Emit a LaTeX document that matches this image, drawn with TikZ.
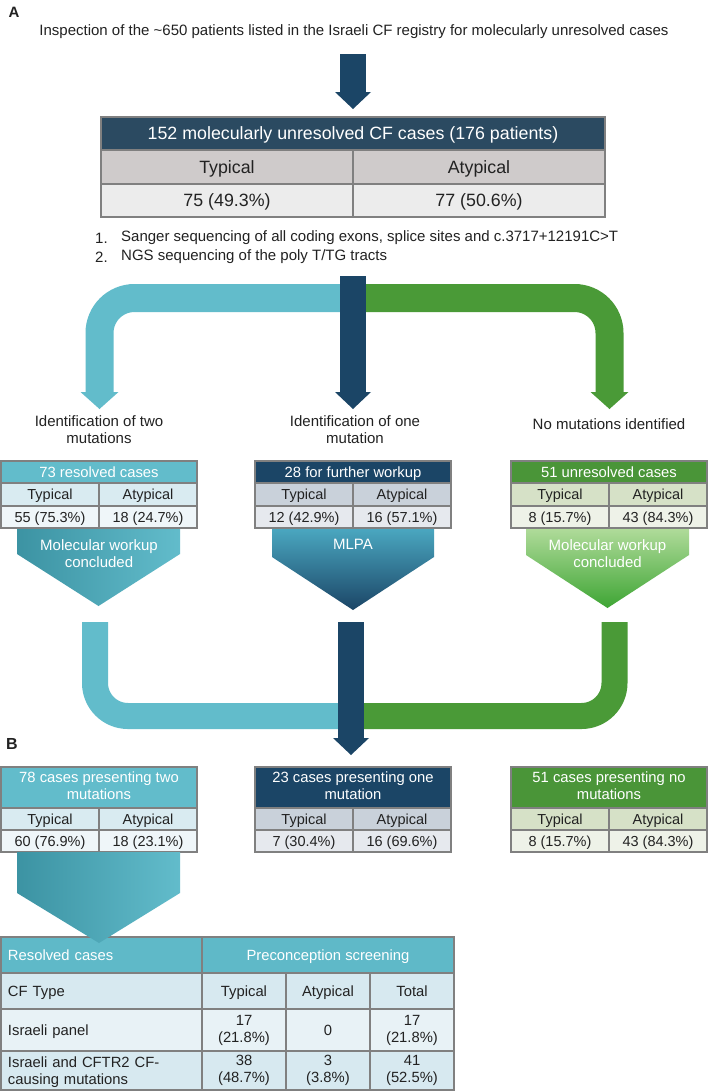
\documentclass[tikz,border=0pt]{standalone}
\usepackage{fontspec}
\setmainfont{Liberation Sans}
\usetikzlibrary{calc}
\definecolor{navy}{HTML}{1B4566}
\definecolor{slate}{HTML}{2B4A61}
\definecolor{tealc}{HTML}{62BCCB}
\definecolor{tealdk}{HTML}{3C93A3}
\definecolor{tealmid}{HTML}{4BA9C2}
\definecolor{greenc}{HTML}{4A9A37}
\definecolor{greenlt}{HTML}{B2DC9C}
\definecolor{greenbr}{HTML}{3EA534}
\definecolor{grayrow}{HTML}{CFCBCB}
\definecolor{grayval}{HTML}{ECECEC}
\definecolor{border}{HTML}{808080}
\definecolor{tealrow}{HTML}{D9EBF1}
\definecolor{tealval}{HTML}{EFF6F9}
\definecolor{navyrow}{HTML}{C9D1DA}
\definecolor{navyval}{HTML}{E6E9EE}
\definecolor{greenrow}{HTML}{D6E1C7}
\definecolor{greenval}{HTML}{EEF2E8}
\definecolor{greenhd}{HTML}{4A9538}
\definecolor{tblhead}{HTML}{5FB9C8}
\definecolor{tblrowA}{HTML}{D7E9F0}
\definecolor{tblrowB}{HTML}{E8F2F6}
\definecolor{textc}{HTML}{222222}
\newcommand\cellstrut{\rule[-0.19em]{0pt}{1.1em}}
\begin{document}
\begin{tikzpicture}[x=1bp,y=-1bp,
  cell/.style={draw=border, line width=1.5bp, inner sep=0pt, outer sep=0pt, align=center, text=textc,
    font=\fontsize{14.5bp}{17bp}\selectfont,
    execute at begin node=\cellstrut, execute at end node=\cellstrut},
  hcell/.style={cell, text=white, font=\fontsize{14.8bp}{17bp}\selectfont},
  bigcell/.style={cell, font=\fontsize{17.8bp}{20bp}\selectfont},
  tcell/.style={cell, font=\fontsize{14.8bp}{17bp}\selectfont},
  lcell/.style={tcell, align=left, inner xsep=7bp, text width=187bp},
  lbl/.style={align=center, text=textc, font=\fontsize{15bp}{17bp}\selectfont, inner sep=0pt},
  chevtext/.style={align=center, text=white, font=\fontsize{15bp}{17bp}\selectfont, inner sep=0pt},
  panel/.style={font=\bfseries\fontsize{15bp}{18bp}\selectfont, text=textc, inner sep=0pt}
]
\useasboundingbox (0,0) rectangle (709,1091);
\fill[white] (0,0) rectangle (709,1091);

% ---------- Panel A ----------
\node[panel] (labA) at (14,12) {A};
\node[lbl] (title) at (354,32) {Inspection of the \textasciitilde650 patients listed in the Israeli CF registry for molecularly unresolved cases};

\coordinate (a1top) at (353,54);
\coordinate (a1base) at (353,92);
\draw[navy, line width=26bp] (a1top) -- (a1base);
\fill[navy] (a1base) ++(-18,0) -- ++(36,0) -- ++(-18,17) -- cycle;

\node[bigcell, fill=slate, text=white, minimum width=504bp, minimum height=33bp] (hdr) at (353,133.5) {152 molecularly unresolved CF cases (176 patients)};
\node[bigcell, fill=grayrow, minimum width=252bp, minimum height=34bp] (ttyp) at (227,167) {Typical};
\node[bigcell, fill=grayrow, minimum width=252bp, minimum height=34bp] (tatyp) at (479,167) {Atypical};
\node[bigcell, fill=grayval, minimum width=252bp, minimum height=33bp] (tv1) at (227,200.5) {75 (49.3\%)};
\node[bigcell, fill=grayval, minimum width=252bp, minimum height=33bp] (tv2) at (479,200.5) {77 (50.6\%)};

\node[lbl, anchor=west, font=\fontsize{15bp}{17bp}\selectfont] (n1) at (95,238) {1.};
\node[lbl, anchor=west, font=\fontsize{15bp}{17bp}\selectfont] (l1) at (121,238) {Sanger sequencing of all coding exons, splice sites and c.3717+12191C>T};
\node[lbl, anchor=west, font=\fontsize{15bp}{17bp}\selectfont] (n2) at (95,257) {2.};
\node[lbl, anchor=west, font=\fontsize{15bp}{17bp}\selectfont] (l2) at (121,257) {NGS sequencing of the poly T/TG tracts};

% branching arrows
\coordinate (split) at (353,298);
\coordinate (dtop) at (353,276);
\coordinate (hbL) at (99.5,392);
\coordinate (hbM) at (353,392);
\coordinate (hbR) at (609.5,392);
\draw[tealc, line width=28bp, rounded corners=35bp] (split) -| (hbL);
\draw[greenc, line width=28bp, rounded corners=35bp] (split) -| (hbR);
\draw[navy, line width=26bp] (dtop) -- (hbM);
\fill[tealc] (hbL) ++(-19,0) -- ++(38,0) -- ++(-19,17) -- cycle;
\fill[navy] (hbM) ++(-18,0) -- ++(36,0) -- ++(-18,17) -- cycle;
\fill[greenc] (hbR) ++(-19,0) -- ++(38,0) -- ++(-19,17) -- cycle;

\node[lbl] (labL) at (99,429.5) {Identification of two\\mutations};
\node[lbl] (labM) at (355,429.5) {Identification of one\\mutation};
\node[lbl] (labR) at (609,424) {No mutations identified};

% chevrons (upper)
\shade[left color=tealdk, right color=tealc] (17,527) -- (180,527) -- (180,554) -- (98.5,606) -- (17,554) -- cycle;
\shade[top color=tealmid, bottom color=navy] (272,527) -- (434,527) -- (434,557) -- (353,610) -- (272,557) -- cycle;
\shade[top color=greenlt, bottom color=greenbr] (526,527) -- (689,527) -- (689,555) -- (607.5,608) -- (526,555) -- cycle;
\node[chevtext] (cL) at (99,553.5) {Molecular workup\\concluded};
\node[chevtext] (cM) at (353,544) {MLPA};
\node[chevtext] (cR) at (607.5,553.5) {Molecular workup\\concluded};

% upper boxes
\node[hcell, fill=tealc, minimum width=196bp, minimum height=22bp] (lh) at (99,472) {73 resolved cases};
\node[cell, fill=tealrow, minimum width=98bp, minimum height=23bp] (lt) at (50,494.5) {Typical};
\node[cell, fill=tealrow, minimum width=98bp, minimum height=23bp] (la) at (148,494.5) {Atypical};
\node[cell, fill=tealval, minimum width=98bp, minimum height=22bp] (lv1) at (50,517) {55 (75.3\%)};
\node[cell, fill=tealval, minimum width=98bp, minimum height=22bp] (lv2) at (148,517) {18 (24.7\%)};

\node[hcell, fill=navy, minimum width=196bp, minimum height=22bp] (mh) at (353,472) {28 for further workup};
\node[cell, fill=navyrow, minimum width=98bp, minimum height=23bp] (mt) at (304,494.5) {Typical};
\node[cell, fill=navyrow, minimum width=98bp, minimum height=23bp] (ma) at (402,494.5) {Atypical};
\node[cell, fill=navyval, minimum width=98bp, minimum height=22bp] (mv1) at (304,517) {12 (42.9\%)};
\node[cell, fill=navyval, minimum width=98bp, minimum height=22bp] (mv2) at (402,517) {16 (57.1\%)};

\node[hcell, fill=greenhd, minimum width=196bp, minimum height=22bp] (rh) at (609,472) {51 unresolved cases};
\node[cell, fill=greenrow, minimum width=98bp, minimum height=23bp] (rt) at (560,494.5) {Typical};
\node[cell, fill=greenrow, minimum width=98bp, minimum height=23bp] (ra) at (658,494.5) {Atypical};
\node[cell, fill=greenval, minimum width=98bp, minimum height=22bp] (rv1) at (560,517) {8 (15.7\%)};
\node[cell, fill=greenval, minimum width=98bp, minimum height=22bp] (rv2) at (658,517) {43 (84.3\%)};

% lower merging arrows
\coordinate (uL) at (95,622);
\coordinate (uR) at (614.5,622);
\coordinate (uM) at (351,622);
\coordinate (join) at (351,716);
\coordinate (hbB) at (351,738);
\draw[tealc, line width=26bp, rounded corners=33bp] (uL) |- (join);
\draw[greenc, line width=26bp, rounded corners=33bp] (uR) |- (join);
\draw[navy, line width=26bp] (uM) -- (hbB);
\fill[navy] (hbB) ++(-18,0) -- ++(36,0) -- ++(-18,17) -- cycle;

% ---------- Panel B ----------
\node[panel, font=\bfseries\fontsize{16bp}{18bp}\selectfont] (labB) at (12,744) {B};

\node[hcell, fill=tealc, minimum width=196bp, minimum height=41bp] (blh) at (99,787.5) {78 cases presenting two\\mutations};
\node[cell, fill=tealrow, minimum width=98bp, minimum height=22bp] (blt) at (50,819) {Typical};
\node[cell, fill=tealrow, minimum width=98bp, minimum height=22bp] (bla) at (148,819) {Atypical};
\node[cell, fill=tealval, minimum width=98bp, minimum height=22bp] (blv1) at (50,841) {60 (76.9\%)};
\node[cell, fill=tealval, minimum width=98bp, minimum height=22bp] (blv2) at (148,841) {18 (23.1\%)};

\node[hcell, fill=navy, minimum width=196bp, minimum height=41bp] (bmh) at (353,787.5) {23 cases presenting one\\mutation};
\node[cell, fill=navyrow, minimum width=98bp, minimum height=22bp] (bmt) at (304,819) {Typical};
\node[cell, fill=navyrow, minimum width=98bp, minimum height=22bp] (bma) at (402,819) {Atypical};
\node[cell, fill=navyval, minimum width=98bp, minimum height=22bp] (bmv1) at (304,841) {7 (30.4\%)};
\node[cell, fill=navyval, minimum width=98bp, minimum height=22bp] (bmv2) at (402,841) {16 (69.6\%)};

\node[hcell, fill=greenhd, minimum width=196bp, minimum height=41bp] (brh) at (609,787.5) {51 cases presenting no\\mutations};
\node[cell, fill=greenrow, minimum width=98bp, minimum height=22bp] (brt) at (560,819) {Typical};
\node[cell, fill=greenrow, minimum width=98bp, minimum height=22bp] (bra) at (658,819) {Atypical};
\node[cell, fill=greenval, minimum width=98bp, minimum height=22bp] (brv1) at (560,841) {8 (15.7\%)};
\node[cell, fill=greenval, minimum width=98bp, minimum height=22bp] (brv2) at (658,841) {43 (84.3\%)};

% bottom table
\node[lcell, fill=tblhead, text=white, minimum width=201bp, minimum height=36bp] (th1) at (101.5,955) {Resolved cases};
\node[tcell, fill=tblhead, text=white, minimum width=252bp, minimum height=36bp] (th2) at (328,955) {Preconception screening};
\node[lcell, fill=tblrowA, minimum width=201bp, minimum height=36bp] (r1a) at (101.5,991) {CF Type};
\node[tcell, fill=tblrowA, minimum width=84bp, minimum height=36bp] (r1b) at (244,991) {Typical};
\node[tcell, fill=tblrowA, minimum width=84bp, minimum height=36bp] (r1c) at (328,991) {Atypical};
\node[tcell, fill=tblrowA, minimum width=84bp, minimum height=36bp] (r1d) at (412,991) {Total};
\node[lcell, fill=tblrowB, minimum width=201bp, minimum height=42bp] (r2a) at (101.5,1030) {Israeli panel};
\node[tcell, fill=tblrowB, minimum width=84bp, minimum height=42bp] (r2b) at (244,1030) {17\\(21.8\%)};
\node[tcell, fill=tblrowB, minimum width=84bp, minimum height=42bp] (r2c) at (328,1030) {0};
\node[tcell, fill=tblrowB, minimum width=84bp, minimum height=42bp] (r2d) at (412,1030) {17\\(21.8\%)};
\node[lcell, fill=tblrowA, minimum width=201bp, minimum height=39bp] (r3a) at (101.5,1070.5) {Israeli and CFTR2 CF-\\causing mutations};
\node[tcell, fill=tblrowA, minimum width=84bp, minimum height=39bp] (r3b) at (244,1070.5) {38\\(48.7\%)};
\node[tcell, fill=tblrowA, minimum width=84bp, minimum height=39bp] (r3c) at (328,1070.5) {3\\(3.8\%)};
\node[tcell, fill=tblrowA, minimum width=84bp, minimum height=39bp] (r3d) at (412,1070.5) {41\\(52.5\%)};

% big chevron from left B box to table
\shade[left color=tealdk, right color=tealc] (blv1.south west -| 17,0) -- (blv2.south east -| 180,0) -- (180,893) -- (99,943) -- (17,893) -- cycle;
\end{tikzpicture}
\end{document}
